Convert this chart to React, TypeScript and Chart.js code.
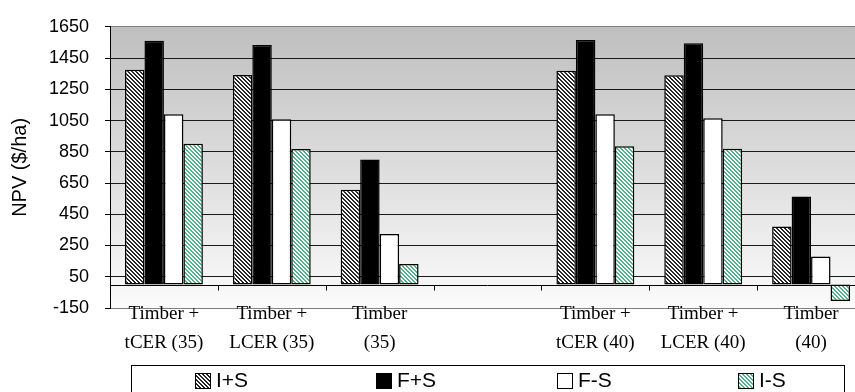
import React, { useEffect, useRef } from 'react';
import { Chart, registerables } from 'chart.js';

Chart.register(...registerables);

// ---- data ----
const categories: (string | string[])[] = [
  ['Timber +', 'tCER (35)'],
  ['Timber +', 'LCER (35)'],
  ['Timber', '(35)'],
  '',
  ['Timber +', 'tCER (40)'],
  ['Timber +', 'LCER (40)'],
  ['Timber', '(40)'],
];
const seriesLabels = ['I+S', 'F+S', 'F-S', 'I-S'];
const valuesIplusS = [1375, 1342, 607, null, 1368, 1340, 371];
const valuesFplusS = [1560, 1534, 800, null, 1565, 1544, 563];
const valuesFminusS = [1091, 1058, 323, null, 1091, 1064, 179];
const valuesIminusS = [901, 868, 131, null, 886, 870, -105];
const yTickValues = [-150, 50, 250, 450, 650, 850, 1050, 1250, 1450, 1650];
const yMin = -150;
const yMax = 1650;
const yTitle = 'NPV ($/ha)';

const SANS = '"Liberation Sans", Arial, sans-serif';
const SERIF = '"Liberation Serif", "Times New Roman", serif';

function makePattern(
  ctx: CanvasRenderingContext2D,
  fg: string,
  bg: string,
  on: (x: number, y: number) => boolean
) {
  const c = document.createElement('canvas');
  c.width = 4;
  c.height = 4;
  const g = c.getContext('2d')!;
  g.fillStyle = bg;
  g.fillRect(0, 0, 4, 4);
  g.fillStyle = fg;
  for (let y = 0; y < 4; y++) {
    for (let x = 0; x < 4; x++) {
      if (on(x, y)) g.fillRect(x, y, 1, 1);
    }
  }
  return ctx.createPattern(c, 'repeat') as CanvasPattern;
}

const bgPlugin = {
  id: 'plotGradient',
  beforeDraw(chart: any) {
    const { ctx, chartArea } = chart;
    if (!chartArea) return;
    const g = ctx.createLinearGradient(0, chartArea.top, 0, chartArea.bottom);
    g.addColorStop(0, '#bfbfbf');
    g.addColorStop(1, '#fbfbfb');
    ctx.save();
    ctx.fillStyle = g;
    ctx.fillRect(chartArea.left, chartArea.top, chartArea.right - chartArea.left, chartArea.bottom - chartArea.top);
    ctx.restore();
  },
};

const zeroLinePlugin = {
  id: 'zeroAxis',
  beforeDatasetsDraw(chart: any) {
    const { ctx, chartArea, scales } = chart;
    const x = scales.x;
    const y0 = Math.round(scales.y.getPixelForValue(0)) + 0.5;
    ctx.save();
    ctx.strokeStyle = '#000';
    ctx.lineWidth = 1;
    ctx.beginPath();
    ctx.moveTo(chartArea.left, y0);
    ctx.lineTo(chartArea.right, y0);
    const n = chart.data.labels.length;
    for (let i = 1; i < n; i++) {
      const bx = Math.round((x.getPixelForTick(i - 1) + x.getPixelForTick(i)) / 2) + 0.5;
      ctx.moveTo(bx, y0);
      ctx.lineTo(bx, y0 + 5);
    }
    ctx.stroke();
    ctx.restore();
  },
};

// category labels drawn from the x scale's tick positions (unclipped, so they may
// overlap the bottom edge of the plot as in the reference)
const categoryLabelPlugin = {
  id: 'categoryLabels',
  afterDatasetsDraw(chart: any) {
    const { ctx, chartArea, scales } = chart;
    const x = scales.x;
    ctx.save();
    ctx.fillStyle = '#000';
    ctx.font = '19px ' + SERIF;
    ctx.textAlign = 'center';
    ctx.textBaseline = 'alphabetic';
    (chart.data.labels as any[]).forEach((lab, i) => {
      const lines = Array.isArray(lab) ? lab : [lab];
      const cx = x.getPixelForTick(i);
      lines.forEach((ln: string, j: number) => {
        ctx.fillText(ln, cx, chartArea.bottom + 11 + j * 29);
      });
    });
    ctx.restore();
  },
};

const boxLegendPlugin = {
  id: 'boxLegend',
  afterDraw(chart: any) {
    const { ctx, chartArea } = chart;
    const left = chartArea.left + 21;
    const right = chartArea.right - 21;
    const top = chartArea.bottom + 57;
    ctx.save();
    ctx.strokeStyle = '#000';
    ctx.lineWidth = 1;
    ctx.strokeRect(Math.round(left) + 0.5, Math.round(top) + 0.5, Math.round(right - left), 60);
    ctx.font = '21px ' + SANS;
    ctx.textBaseline = 'alphabetic';
    ctx.textAlign = 'left';
    chart.data.datasets.forEach((ds: any, i: number) => {
      const sx = Math.round(left + 64 + i * 181);
      const sy = Math.round(top + 8);
      ctx.fillStyle = ds.backgroundColor;
      ctx.fillRect(sx, sy, 16, 16);
      ctx.strokeStyle = '#000';
      ctx.strokeRect(sx + 0.5, sy + 0.5, 15, 15);
      ctx.fillStyle = '#000';
      ctx.fillText(ds.label, sx + 21, sy + 14);
    });
    ctx.restore();
  },
};

export default function App() {
  const ref = useRef<HTMLCanvasElement>(null);

  useEffect(() => {
    const canvas = ref.current!;
    const ctx = canvas.getContext('2d')!;
    const patIS = makePattern(ctx, '#262626', '#ffffff', (x, y) => ((x - y + 8) % 4) < 2);
    const patIminusS = makePattern(ctx, '#4fb58a', '#ffffff', (x, y) => ((x - y + 8) % 4) < 2);

    const fills = [patIS, '#000000', '#ffffff', patIminusS];
    const series = [valuesIplusS, valuesFplusS, valuesFminusS, valuesIminusS];

    const chart = new Chart(canvas, {
      type: 'bar',
      data: {
        labels: categories as any,
        datasets: series.map((d, i) => ({
          label: seriesLabels[i],
          data: d as any,
          backgroundColor: fills[i] as any,
          borderColor: '#000000',
          borderWidth: 1.5,
          borderSkipped: false,
          categoryPercentage: 0.722,
          barPercentage: 1,
        })),
      },
      options: {
        responsive: false,
        animation: false,
        devicePixelRatio: 1,
        layout: { padding: { top: 21, right: 5, left: 0, bottom: 0 } },
        plugins: {
          legend: { display: false },
          tooltip: { enabled: false },
        },
        scales: {
          x: {
            grid: { display: false, drawTicks: false },
            border: { display: false },
            ticks: {
              display: false,
              autoSkip: false,
              maxRotation: 0,
              minRotation: 0,
            },
            afterFit: (s: any) => {
              s.height = 84;
            },
          },
          y: {
            min: yMin,
            max: yMax,
            afterBuildTicks: (s: any) => {
              s.ticks = yTickValues.map((v) => ({ value: v }));
            },
            ticks: {
              color: '#000',
              padding: 16,
              font: { family: SANS, size: 18 },
              callback: (v: any) => String(v),
            },
            grid: {
              color: (c: any) =>
                c.tick && (c.tick.value === yMax || c.tick.value === yMin) ? '#808080' : '#1a1a1a',
              tickColor: '#000',
              tickLength: 5,
              lineWidth: 1,
            },
            border: { display: true, color: '#000', width: 1 },
            title: {
              display: true,
              text: yTitle,
              color: '#000',
              font: { family: SANS, size: 20 },
              padding: { top: 8, bottom: 0 },
            },
            afterFit: (s: any) => {
              s.width = 110;
            },
          },
        },
      },
      plugins: [bgPlugin, zeroLinePlugin, categoryLabelPlugin, boxLegendPlugin],
    } as any);

    return () => chart.destroy();
  }, []);

  return (
    <div
      style={{
        position: 'absolute',
        left: 0,
        top: 0,
        width: 855,
        height: 392,
        overflow: 'hidden',
        background: '#fff',
      }}
    >
      <canvas ref={ref} width={870} height={392} style={{ display: 'block' }} />
    </div>
  );
}
